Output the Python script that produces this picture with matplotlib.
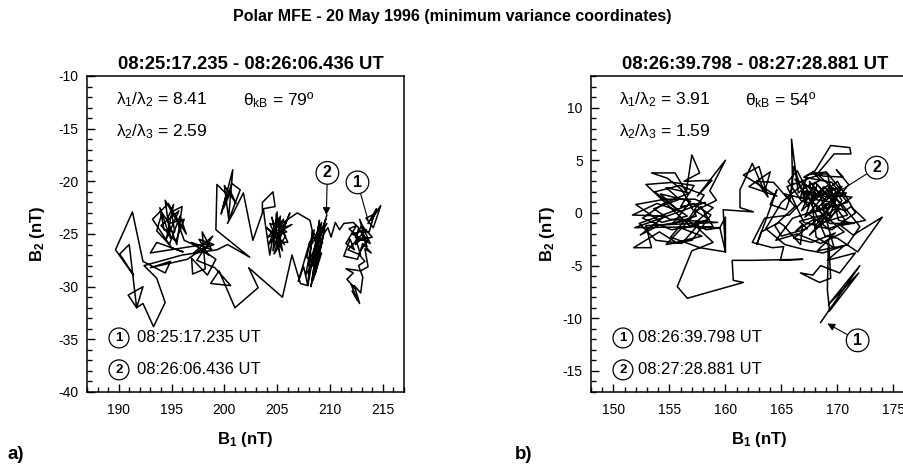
import numpy as np
import matplotlib
matplotlib.use("Agg")
import matplotlib.pyplot as plt
from matplotlib.ticker import MultipleLocator

plt.rcParams['font.family'] = ['Liberation Sans', 'DejaVu Sans']
plt.rcParams['mathtext.fontset'] = 'custom'
plt.rcParams['mathtext.rm'] = 'Liberation Sans'
plt.rcParams['mathtext.it'] = 'Liberation Sans'
plt.rcParams['mathtext.bf'] = 'Liberation Sans:bold'
plt.rcParams['axes.unicode_minus'] = False

# hodogram a) (B1, B2) in nT, start at (1), end at (2)
hodo_a = np.array([
    # cluster near (1)
    (213.6, -24.0), (214.4, -22.6), (213.9, -23.7), (214.8, -22.3), (214.1, -24.4),
    (213.4, -23.5), (214.2, -23.1), (213.7, -24.8), (212.9, -24.7), (213.5, -26.2),
    (212.8, -23.6), (213.8, -25.9), (212.1, -25.0), (213.4, -24.6), (211.7, -26.5),
    (212.9, -27.0), (212.5, -25.7), (214.0, -25.3), (213.0, -24.2),
    (212.4, -25.3), (213.0, -25.6), (211.8, -24.5), (212.5, -24.2), (211.5, -25.9),
    (212.3, -26.5), (211.9, -25.5), (211.3, -27.1), (212.6, -27.4), (213.1, -25.9),
    (213.9, -26.8), (213.3, -26.4), (213.6, -28.1), (212.9, -28.5), (211.5, -28.3),
    (212.2, -28.7), (211.6, -29.3), (212.4, -30.2), (212.0, -29.8), (212.6, -31.3),
    (212.1, -30.4), (212.8, -31.6), (212.3, -29.9), (212.9, -30.6), (213.1, -29.1),
    (212.7, -28.0), (213.3, -27.6), (212.7, -26.9), (213.6, -25.5), (213.2, -25.2),
    (212.4, -26.0), (212.7, -24.4), (212.2, -23.9), (211.3, -24.0), (210.9, -24.6),
    (210.5, -23.9), (210.1, -25.3), (209.8, -24.4),
    # cluster near (2)
    (209.4, -25.0), (208.6, -28.8), (209.1, -24.3), (208.2, -30.0), (208.9, -25.4),
    (209.7, -24.0), (208.0, -26.3), (208.5, -24.6), (207.7, -28.9), (208.7, -27.3),
    (209.5, -24.5), (208.4, -29.4), (209.2, -26.8), (208.1, -28.3), (209.6, -23.6),
    (208.7, -25.9), (207.9, -28.0),
    (209.3, -25.8), (208.3, -24.8), (207.9, -29.9), (208.5, -26.5), (209.0, -23.7),
    (208.4, -27.9), (207.8, -27.2), (208.1, -25.7), (207.0, -29.5), (207.5, -28.1),
    (207.9, -29.9), (207.2, -29.7), (206.4, -27.0), (205.5, -31.0), (202.3, -28.2),
    (203.2, -30.1), (201.0, -32.0), (199.5, -28.5), (198.7, -29.7), (200.6, -29.9),
    (199.1, -28.2),
    # mesh around 198
    (197.4, -27.5), (198.9, -25.2), (197.1, -26.8), (199.0, -26.0), (197.6, -25.5),
    (198.5, -27.0), (196.9, -25.8), (198.8, -26.5), (197.9, -24.8), (198.2, -28.3),
    (197.0, -28.8), (196.9, -27.3), (198.4, -28.9), (199.2, -27.4), (197.3, -26.1),
    (196.2, -25.6),
    # upper left cluster
    (195.6, -23.9), (194.4, -21.8), (194.9, -25.4), (193.9, -22.5), (194.3, -24.6),
    (195.3, -24.8), (195.0, -22.9), (196.0, -22.4), (195.5, -26.0), (194.6, -23.6),
    (195.2, -22.2), (194.5, -25.5), (195.7, -22.8), (194.0, -24.2), (195.4, -25.7),
    (196.2, -23.6), (194.8, -24.0),
    (194.1, -23.0), (193.6, -24.7), (194.8, -26.0), (195.8, -23.3), (196.4, -25.0),
    (195.9, -24.2), (194.7, -22.1), (193.2, -23.6), (194.2, -25.1), (195.0, -26.3),
    (196.1, -26.7), (193.6, -25.8), (193.0, -26.8), (198.7, -25.9), (196.5, -27.4),
    (193.0, -28.2), (194.9, -27.6), (194.4, -28.7), (192.3, -27.6),
    # far left
    (191.3, -22.9), (189.7, -26.5), (191.4, -28.9), (190.1, -26.9), (191.0, -26.0),
    (191.7, -32.0), (190.9, -30.8), (192.3, -30.0), (191.7, -32.0), (192.3, -31.6),
    (193.3, -33.8), (194.4, -31.5), (193.6, -29.2), (192.4, -28.0), (196.0, -27.0),
    (199.3, -26.5), (200.3, -26.0), (202.4, -27.2),
    # tall spikes near 200
    (199.2, -24.6), (199.3, -20.3), (200.2, -21.2), (199.7, -23.1), (200.8, -18.9),
    (200.4, -23.5), (200.0, -20.4), (201.1, -22.1), (200.6, -21.0), (199.9, -22.6),
    (200.7, -20.2), (201.5, -20.8), (200.3, -24.0), (200.9, -22.9), (201.8, -21.1),
    (202.7, -25.6), (203.6, -23.0), (203.6, -22.0), (204.6, -21.0), (204.8, -22.4),
    (203.7, -22.6), (203.8, -23.5),
    # middle cluster
    (204.3, -27.0), (205.0, -22.9), (204.6, -26.6), (205.6, -23.6), (204.1, -25.3),
    (205.9, -24.8), (204.8, -24.0), (205.3, -27.2), (204.5, -23.4), (205.1, -26.1),
    (205.3, -23.3), (204.2, -26.0), (205.8, -23.9), (204.6, -25.7), (206.0, -25.8),
    (204.9, -23.1), (205.5, -26.6), (204.3, -24.0), (205.6, -24.5),
    (206.2, -23.0), (205.2, -25.6), (204.0, -24.4), (204.9, -25.1), (205.7, -26.0),
    (204.4, -24.9), (206.4, -24.1), (205.4, -24.7), (204.7, -26.9), (205.8, -25.2),
    (205.0, -24.3), (206.9, -23.0), (208.1, -23.7),
    (208.5, -25.5), (209.2, -23.9), (208.8, -26.2), (209.7, -23.2),
])

# hodogram b)
hodo_b = np.array([
    # start near (1), lower right
    (168.5, -10.4), (172.0, -5.0), (169.2, -8.7), (171.9, -5.7), (169.3, -9.3),
    (169.1, -7.3), (169.2, -2.6), (169.4, -6.2), (168.4, -6.6), (166.7, -5.7),
    (167.8, -5.9), (168.5, -5.0), (170.2, -5.7), (171.6, -3.8), (169.1, -4.5),
    # right cluster, first pass
    (170.6, -3.1), (168.2, -3.6), (169.8, -1.9), (167.7, -2.8), (166.1, -2.4),
    (168.7, -0.2), (166.6, -0.8), (167.3, -1.5), (165.0, -2.2), (164.4, -1.2),
    (166.2, 0.6), (165.3, 1.8), (167.2, 1.3), (166.9, 2.1), (168.1, 1.6),
    (170.4, 2.5), (168.8, 0.4), (170.9, 1.0), (169.5, 2.9), (167.0, 3.4),
    (168.0, 4.0), (169.4, 6.4), (171.1, 6.2), (171.2, 5.6), (169.7, 5.6),
    (168.2, 3.7), (169.1, 3.7), (170.1, -0.7), (171.5, -1.0), (169.3, -1.0),
    (167.9, 0.9), (166.8, 1.1), (165.6, 3.0), (166.4, 4.0), (167.5, 1.8),
    (165.7, -0.2), (163.5, -0.5), (162.4, -2.8), (164.2, -3.3), (165.2, -3.2),
    (164.9, -4.5), (166.9, -4.4), (162.5, -4.5),
    # small triangle and the loop below
    (160.6, -4.5), (160.7, -6.4), (161.6, -6.6), (156.6, -8.1), (155.7, -7.0),
    # left cluster
    (157.0, -3.6), (158.9, -2.8), (157.5, -1.4), (159.5, -1.4), (160.0, -3.7),
    (157.7, -3.3), (155.1, -2.3), (156.3, -0.8), (154.0, -1.2), (152.4, -2.1),
    (154.6, -0.3), (151.7, -0.2), (153.9, 0.9), (155.8, 0.2), (154.2, 1.8),
    (156.9, 1.1), (155.3, -1.0), (157.4, -0.3), (156.1, 2.2), (154.8, 3.3),
    (153.4, 3.8), (155.5, 3.8), (156.5, 2.0), (157.0, 5.5), (157.7, 3.8),
    (156.3, 3.0), (158.8, 3.1), (157.5, 1.6), (160.0, 5.0), (158.6, 2.1),
    (159.2, 1.2), (157.3, 0.2), (158.5, -0.6), (156.2, -1.5), (157.9, -2.2),
    (155.6, -2.8), (154.1, -1.8), (151.8, -3.3), (153.4, -3.3), (152.9, -1.2),
    (159.3, -0.9), (155.0, -0.6), (153.6, 0.4), (155.9, 1.3), (154.7, 2.4),
    (156.8, 1.9), (154.5, 0.9), (152.6, -0.5), (155.2, -1.6), (157.6, -1.1),
    (156.1, -2.9), (153.8, -2.6), (152.3, -1.0), (154.9, 0.0), (157.1, 0.9),
    (158.7, -0.2), (157.0, -2.6), (154.7, -3.0), (156.4, -1.1), (158.1, 1.7),
    (155.9, 2.6), (153.7, 2.0), (155.1, 0.8), (156.6, -0.3), (154.3, -0.9),
    (152.0, 0.8), (154.6, 1.3), (157.3, 1.3), (158.9, 0.5), (156.9, -1.3),
    (152.9, 2.7), (155.3, 2.9), (157.2, 2.6), (156.0, 0.6), (158.2, 1.0),
    (151.9, -1.4), (158.9, -1.3), (157.8, 0.6), (156.7, -0.8), (158.3, -1.6),
    (159.5, -1.4), (160.0, -0.4), (160.0, -3.7), (159.8, 0.3), (162.5, 0.1),
    # middle cluster
    (161.3, 0.5), (161.3, 2.2), (162.4, 4.7), (163.5, 2.0), (164.0, 3.9),
    (162.1, 2.5), (164.6, 1.6), (161.6, 3.6), (163.0, 4.4), (163.8, 1.5),
    (162.8, 3.0), (164.3, 2.9),
    # right cluster, second pass, ends at (2)
    (165.7, 1.2), (166.0, 2.6), (165.9, 7.0), (166.5, 1.9), (167.4, 2.6),
    (168.5, 3.1), (167.8, 3.9), (168.7, 3.5), (170.5, 3.4), (169.9, 4.1),
    (171.0, 2.7), (170.2, 1.6), (170.8, 1.9), (169.2, 1.7), (168.6, 2.2),
    (168.2, 2.7), (167.1, -0.4), (167.6, 0.0), (168.4, 0.2), (169.0, 0.9),
    (169.6, 0.6), (170.7, 0.2), (171.2, 0.6), (172.5, -0.7), (170.3, -1.2),
    (171.4, -2.1), (174.0, -0.4), (171.8, -3.7), (170.0, -2.4), (168.9, -2.2),
    (167.2, 2.1), (169.8, 1.3), (168.4, -1.0), (170.9, -0.2), (169.1, 2.6),
    (166.8, 0.2), (168.0, 2.9), (170.2, 0.4), (167.5, -2.1), (169.4, 0.1),
    (171.3, 1.5), (168.7, 1.8), (166.2, 3.2), (167.7, 1.0), (170.0, 3.0),
    (171.6, 0.0), (169.5, -1.6), (167.0, -0.9), (165.5, 2.5), (168.3, 3.6),
    (169.9, 2.0), (168.1, 0.4), (170.6, -1.8), (168.5, -2.9), (166.4, -2.0),
    (164.5, -2.6), (166.0, -0.5), (168.9, 0.5), (170.3, 2.2), (169.0, 3.9),
    (167.3, 3.6), (166.7, 1.5), (169.6, 1.0), (170.8, -0.9), (169.2, -1.5),
    (167.4, -0.1), (168.6, 1.4), (167.0, 2.8), (165.0, 1.0), (163.6, -1.5),
    (165.3, -3.0), (167.1, -3.5), (168.7, -3.8), (170.9, -3.0), (172.0, -1.3),
    (170.5, 0.7), (168.8, 2.5), (167.6, 1.2), (169.3, -0.3), (170.1, 1.9),
    (168.0, -1.3), (167.9, -0.6), (166.3, -1.7), (166.9, -1.1), (166.7, -3.0),
    (165.2, -1.2), (164.8, -0.9), (163.2, -1.8), (162.8, -3.0), (164.6, 2.2),
    (164.0, 0.8), (165.4, 0.3), (165.8, 1.5), (166.1, 4.4), (167.3, 0.6),
    (168.3, 1.9), (169.4, -0.5), (170.4, 1.2), (169.6, 2.4), (168.6, 0.9),
    (169.7, -3.3), (168.1, -2.3), (167.5, 3.0), (168.9, 1.2),
])

panel_titles = ["08:25:17.235 - 08:26:06.436 UT", "08:26:39.798 - 08:27:28.881 UT"]
eig_12 = ["8.41", "3.91"]
eig_23 = ["2.59", "1.59"]
theta_kb = ["79", "54"]
start_times = ["08:25:17.235 UT", "08:26:39.798 UT"]
end_times = ["08:26:06.436 UT", "08:27:28.881 UT"]
xlims = [(187, 217), (148, 178)]
ylims = [(-40, -10), (-17, 13)]
# where the circled (1)/(2) markers point, and where the circles sit
mark1 = [((213.6, -23.7), (212.6, -20.1)), ((169.1, -10.5), (171.8, -12.1))]
mark2 = [((209.65, -23.2), (209.75, -19.2)), ((168.9, 1.2), (173.5, 4.3))]

fig = plt.figure(figsize=(9.04, 4.67), dpi=100)
ax_a = fig.add_axes([0.0962, 0.1606, 0.3507, 0.6767])
ax_b = fig.add_axes([0.6538, 0.1606, 0.3717, 0.6767])

fig.text(0.5, 1 - 17 / 467, "Polar MFE - 20 May 1996 (minimum variance coordinates)",
         ha='center', va='center', fontsize=11.5, fontweight='bold')
fig.text(0.008, 0.026, "a)", ha='left', va='center', fontsize=13.5, fontweight='bold')
fig.text(0.569, 0.026, "b)", ha='left', va='center', fontsize=13.5, fontweight='bold')

circ_big = dict(boxstyle='circle,pad=0.24', fc='white', ec='black', lw=0.9)
circ_small = dict(boxstyle='circle,pad=0.3', fc='white', ec='black', lw=0.9)

for i, (ax, pts) in enumerate([(ax_a, hodo_a), (ax_b, hodo_b)]):
    ax.plot(pts[:, 0], pts[:, 1], color='black', lw=1.1)
    ax.set_xlim(*xlims[i])
    ax.set_ylim(*ylims[i])
    ax.xaxis.set_major_locator(MultipleLocator(5))
    ax.xaxis.set_minor_locator(MultipleLocator(1))
    ax.yaxis.set_major_locator(MultipleLocator(5))
    ax.yaxis.set_minor_locator(MultipleLocator(1))
    ax.tick_params(which='both', direction='in', top=False, right=False,
                   labelsize=10, width=1.0)
    ax.tick_params(axis='x', which='both', pad=8)
    ax.tick_params(axis='y', which='both', pad=6)
    ax.tick_params(which='major', length=6)
    ax.tick_params(which='minor', length=3.5)
    for sp in ax.spines.values():
        sp.set_linewidth(1.1)

    ax.set_title(panel_titles[i], fontsize=13.3, fontweight='bold', pad=5,
                 x=0.517 if i == 0 else 0.488)
    ax.set_xlabel(r"B$_\mathbf{1}$ (nT)", fontsize=12, fontweight='bold', labelpad=9)
    ax.set_ylabel(r"B$_\mathbf{2}$ (nT)", fontsize=12, fontweight='bold',
                  labelpad=8 if i == 0 else 4)

    x_lam = 0.091 if i == 0 else 0.083
    x_th = 0.492 if i == 0 else 0.458
    ax.text(x_lam, 0.924, r"$\lambda_1/\lambda_2$ = " + eig_12[i], transform=ax.transAxes,
            fontsize=12.5, va='center')
    ax.text(x_lam, 0.823, r"$\lambda_2/\lambda_3$ = " + eig_23[i], transform=ax.transAxes,
            fontsize=12.5, va='center')
    ax.text(x_th, 0.924, r"$\theta_{kB}$ = " + theta_kb[i] + "º", transform=ax.transAxes,
            fontsize=12.5, va='center')

    # legend of the circled markers
    x_c = 0.101 if i == 0 else 0.095
    x_t = 0.158 if i == 0 else 0.140
    for lab, yy, tt in [("1", 0.171, start_times[i]), ("2", 0.070, end_times[i])]:
        ax.text(x_c, yy, lab, transform=ax.transAxes, ha='center', va='center',
                fontsize=9.5, fontweight='bold', bbox=circ_small)
        ax.text(x_t, yy, tt, transform=ax.transAxes, ha='left', va='center', fontsize=12)

    # circled markers on the trace
    style1 = '-|>' if i == 1 else '-'
    ax.annotate("1", xy=mark1[i][0], xytext=mark1[i][1], ha='center', va='center',
                fontsize=11.5, fontweight='bold', bbox=circ_big,
                arrowprops=dict(arrowstyle=style1, color='black', lw=0.8,
                                shrinkA=0, shrinkB=0, mutation_scale=11))
    style2 = '-|>' if i == 0 else '-'
    ax.annotate("2", xy=mark2[i][0], xytext=mark2[i][1], ha='center', va='center',
                fontsize=11.5, fontweight='bold', bbox=circ_big,
                arrowprops=dict(arrowstyle=style2, color='black', lw=0.8,
                                shrinkA=0, shrinkB=0, mutation_scale=11))

fig.savefig("out.png", dpi=100)
